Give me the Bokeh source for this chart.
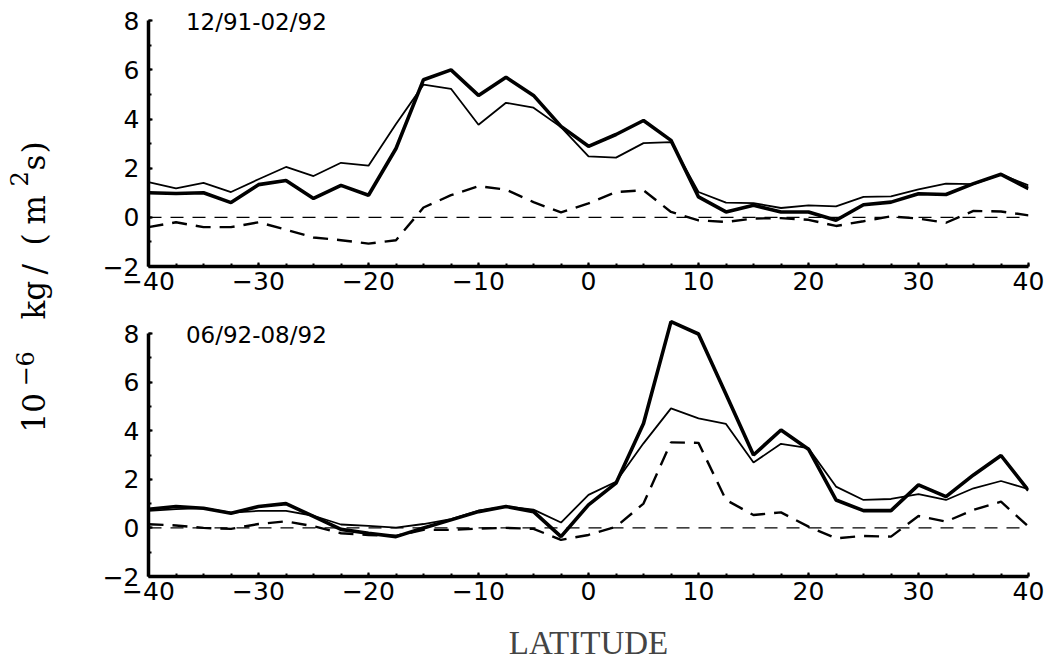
import math
from bokeh.plotting import figure
from bokeh.layouts import row, column
from bokeh.models import SingleIntervalTicker, Label, Span, Range1d
from bokeh.embed import file_html
from bokeh.resources import INLINE

lat = [-40, -37.5, -35, -32.5, -30, -27.5, -25, -22.5, -20, -17.5, -15, -12.5, -10,
       -7.5, -5, -2.5, 0, 2.5, 5, 7.5, 10, 12.5, 15, 17.5, 20, 22.5, 25, 27.5, 30,
       32.5, 35, 37.5, 40]

# Panel 1: 12/91-02/92
djf_thick = [1.0, 0.97, 1.0, 0.6, 1.33, 1.5, 0.77, 1.3, 0.9, 2.8, 5.6, 6.0, 4.96,
             5.7, 4.96, 3.7, 2.89, 3.37, 3.94, 3.13, 0.83, 0.22, 0.49, 0.22, 0.22, -0.12,
             0.51, 0.62, 0.96, 0.93, 1.37, 1.75, 1.17]
djf_thin = [1.43, 1.18, 1.4, 1.03, 1.55, 2.05, 1.68, 2.22, 2.1, 3.8, 5.4, 5.23, 3.77,
            4.66, 4.46, 3.67, 2.48, 2.43, 3.02, 3.06, 1.03, 0.6, 0.58, 0.38, 0.49, 0.45,
            0.83, 0.85, 1.14, 1.37, 1.35, 1.75, 1.3]
djf_dash = [-0.4, -0.2, -0.4, -0.4, -0.2, -0.5, -0.82, -0.93, -1.07, -0.93, 0.4, 0.9, 1.27,
            1.13, 0.62, 0.2, 0.57, 1.03, 1.1, 0.22, -0.12, -0.19, -0.05, -0.03, -0.1, -0.35,
            -0.16, 0.04, -0.05, -0.22, 0.26, 0.24, 0.08]

# Panel 2: 06/92-08/92
jja_thick = [0.77, 0.88, 0.81, 0.6, 0.88, 1.0, 0.47, -0.06, -0.22, -0.36, 0.0, 0.33, 0.67,
             0.88, 0.67, -0.36, 0.95, 1.84, 4.3, 8.49, 7.98, 5.5, 3.0, 4.03, 3.24, 1.15,
             0.71, 0.71, 1.77, 1.29, 2.18, 2.98, 1.54]
jja_thin = [0.7, 0.77, 0.81, 0.63, 0.7, 0.7, 0.5, 0.14, 0.08, 0.01, 0.16, 0.36, 0.71,
            0.88, 0.75, 0.22, 1.36, 1.9, 3.48, 4.92, 4.51, 4.28, 2.69, 3.46, 3.28, 1.7,
            1.15, 1.19, 1.39, 1.15, 1.63, 1.93, 1.6]
jja_dash = [0.15, 0.1, 0.0, -0.04, 0.16, 0.27, 0.07, -0.22, -0.29, -0.33, -0.08, -0.08, -0.03,
            0.0, -0.04, -0.49, -0.29, 0.05, 1.0, 3.52, 3.5, 1.15, 0.53, 0.64, 0.05, -0.43,
            -0.33, -0.36, 0.49, 0.26, 0.74, 1.08, 0.05]

titles = ["12/91-02/92", "06/92-08/92"]
# y-axis label pieces: (text, is_superscript)
y_label_parts = [("10", False), ("\u22126", True), ("kg", False), ("/", False),
                 ("(", False), ("m", False), ("2", True), ("s", False), (")", False)]
x_label = "LATITUDE"

TICK_FONT = "DejaVu Sans"
SERIF = "Liberation Serif"
SIDE_SERIF = "DejaVu Serif"

SIDE_W = 96


def make_panel(thick, thin, dash, title, height, top, bottom, with_xlabel):
    p = figure(width=1056 - SIDE_W, height=height, output_backend="svg",
               toolbar_location=None,
               x_range=Range1d(-40, 40), y_range=Range1d(-2, 8.7),
               min_border_left=148 - SIDE_W, min_border_right=28,
               min_border_top=top, min_border_bottom=bottom)
    p.outline_line_color = None
    p.grid.visible = False
    p.background_fill_color = "white"
    p.border_fill_color = "white"

    p.xaxis.ticker = SingleIntervalTicker(interval=10, num_minor_ticks=4)
    p.yaxis.ticker = SingleIntervalTicker(interval=2, num_minor_ticks=2)
    p.yaxis.bounds = (-2, 8)
    for ax in (p.xaxis, p.yaxis):
        ax.axis_line_width = 3.5
        ax.axis_line_color = "black"
        ax.major_tick_in = 4
        ax.major_tick_out = 0
        ax.minor_tick_in = 3
        ax.minor_tick_out = 0
        ax.major_tick_line_width = 2
        ax.minor_tick_line_width = 2
        ax.major_label_text_font = TICK_FONT
        ax.major_label_text_font_size = "25px"
        ax.major_label_text_color = "black"
    p.xaxis.major_label_standoff = 5
    p.yaxis.major_label_standoff = 9

    if with_xlabel:
        p.xaxis.axis_label = x_label
        p.xaxis.axis_label_text_font = SERIF
        p.xaxis.axis_label_text_font_style = "normal"
        p.xaxis.axis_label_text_font_size = "33px"
        p.xaxis.axis_label_standoff = 22

    zero = Span(location=0, dimension="width", line_color="black", line_width=1.1,
                line_dash="13 9")
    p.add_layout(zero)

    p.line(lat, thin, line_color="black", line_width=1.8)
    p.line(lat, thick, line_color="black", line_width=3.6)
    p.line(lat, dash, line_color="black", line_width=2.4, line_dash="15 9")

    p.add_layout(Label(x=-36.6, y=7.95, text=title, text_font=TICK_FONT,
                       text_font_size="23px", text_baseline="middle",
                       text_color="black"))
    return p


# top frame: page y 3..266 ; bottom frame: page y 316..576
top_p = make_panel(djf_thick, djf_thin, djf_dash, titles[0], 315, 3, 49, False)
bot_p = make_panel(jja_thick, jja_thin, jja_dash, titles[1], 355, 1, 94, True)

side = figure(width=SIDE_W, height=670, output_backend="svg", toolbar_location=None,
              x_range=Range1d(0, SIDE_W), y_range=Range1d(0, 670),
              min_border=0)
side.axis.visible = False
side.grid.visible = False
side.outline_line_color = None

# page-y start positions (bottom of each rotated piece)
starts = [432, 386, 319, 274, 245, 224, 186, 170, 153]
for (txt, sup), y0 in zip(y_label_parts, starts):
    if sup:
        xb = 18 if txt == "2" else 24
    else:
        xb = 33
    side.add_layout(Label(x=xb, y=670 - y0, text=txt, angle=math.pi / 2,
                          text_align="left", text_baseline="alphabetic",
                          text_font=SIDE_SERIF,
                          text_font_size="24px" if sup else "31px",
                          text_color="black"))

layout = row(side, column(top_p, bot_p))
open("out.html", "w").write(file_html(layout, INLINE))
